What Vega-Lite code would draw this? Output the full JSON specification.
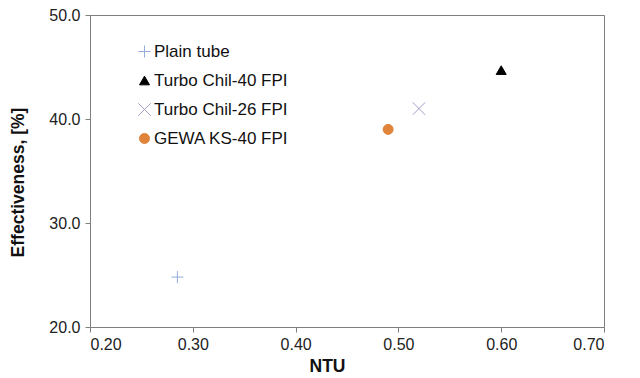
{
  "$schema": "https://vega.github.io/schema/vega-lite/v6.json",
  "autosize": {"type": "none"},
  "width": 514,
  "height": 312,
  "padding": {"left": 90, "top": 15, "right": 36, "bottom": 51},
  "background": "white",
  "config": {
    "font": "Liberation Sans",
    "view": {"stroke": "#7f7f7f", "strokeWidth": 1},
    "axis": {"grid": false, "domainColor": "#7f7f7f", "tickColor": "#7f7f7f", "tickSize": 5, "labelFont": "Liberation Sans", "labelFontSize": 16, "labelColor": "#222222", "titleFont": "Liberation Sans", "titleFontSize": 17.5, "titleFontWeight": "bold", "titleColor": "#111111"}
  },
  "data": {
    "values": [
      {"series": "Plain tube", "ntu": 0.285, "eff": 24.8},
      {"series": "Turbo Chil-40 FPI", "ntu": 0.600, "eff": 44.7},
      {"series": "Turbo Chil-26 FPI", "ntu": 0.520, "eff": 41.0},
      {"series": "GEWA KS-40 FPI", "ntu": 0.490, "eff": 39.0}
    ]
  },
  "mark": {"type": "point", "filled": true, "size": 100, "strokeWidth": 1, "opacity": 1},
  "encoding": {
    "x": {"field": "ntu", "type": "quantitative", "title": "NTU",
      "scale": {"domain": [0.2, 0.7], "nice": false, "zero": false},
      "axis": {"values": [0.2, 0.3, 0.4, 0.5, 0.6, 0.7], "format": ".2f", "labelPadding": 4, "titlePadding": 5, "titleX": 237}},
    "y": {"field": "eff", "type": "quantitative", "title": "Effectiveness, [%]",
      "scale": {"domain": [20, 50], "nice": false, "zero": false},
      "axis": {"values": [20, 30, 40, 50], "format": ".1f", "labelPadding": 5, "titleX": -63, "titleY": 167}},
    "color": {"field": "series", "type": "nominal", "title": null,
      "scale": {"domain": ["Plain tube", "Turbo Chil-40 FPI", "Turbo Chil-26 FPI", "GEWA KS-40 FPI"],
        "range": ["#93ACDC", "#000000", "#A79ECB", "#E0843A"]},
      "legend": {"orient": "none", "legendX": 46, "legendY": 28, "padding": 0, "labelFontSize": 17, "labelColor": "#111111", "labelFont": "Liberation Sans", "rowPadding": 11, "symbolSize": 100, "labelOffset": 1, "symbolStrokeWidth": 1}},
    "stroke": {"field": "series", "type": "nominal", "title": null,
      "scale": {"domain": ["Plain tube", "Turbo Chil-40 FPI", "Turbo Chil-26 FPI", "GEWA KS-40 FPI"],
        "range": ["#93ACDC", "#000000", "#A79ECB", "#E0843A"]}},
    "shape": {"field": "series", "type": "nominal", "title": null,
      "scale": {"domain": ["Plain tube", "Turbo Chil-40 FPI", "Turbo Chil-26 FPI", "GEWA KS-40 FPI"],
        "range": ["M-1.2,0L1.2,0M0,-1.2L0,1.2", "triangle-up", "M-1.25,-1.25L1.25,1.25M-1.25,1.25L1.25,-1.25", "circle"]}}
  }
}
